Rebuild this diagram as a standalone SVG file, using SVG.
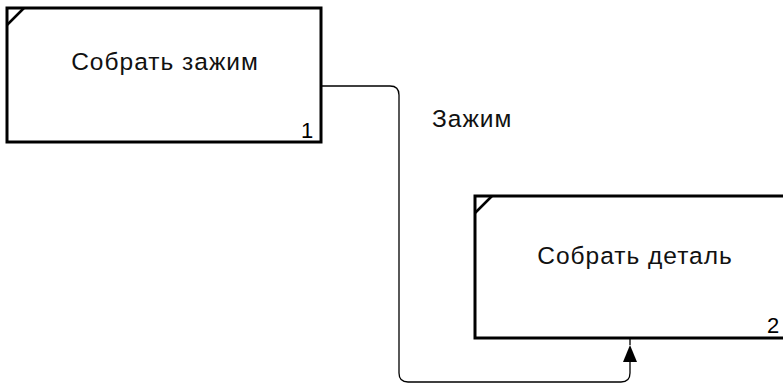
<svg xmlns="http://www.w3.org/2000/svg" width="783" height="385" viewBox="0 0 783 385">
<style>
.box{fill:#fff;stroke:#000;stroke-width:3}
.tick{stroke:#000;stroke-width:2.5;fill:none}
.lbl{font-family:"Liberation Sans",Arial,sans-serif;font-size:24.5px;letter-spacing:1px;fill:#111}
.num{font-family:"Liberation Sans",Arial,sans-serif;font-size:22px;fill:#000}
.conn{fill:none;stroke:#000;stroke-width:1.3}
</style>
<rect width="783" height="385" fill="#fff"/>
<g id="node1">
<rect class="box" x="7" y="8" width="314" height="134"/>
<line class="tick" x1="7" y1="25" x2="24" y2="8"/>
<text class="lbl" x="165" y="70" text-anchor="middle">Собрать зажим</text>
<text class="num" x="301" y="138">1</text>
</g>
<g id="node2">
<rect class="box" x="475" y="196" width="312" height="142"/>
<line class="tick" x1="475" y1="213" x2="492" y2="196"/>
<text class="lbl" x="635" y="264" text-anchor="middle">Собрать деталь</text>
<text class="num" x="767" y="333">2</text>
</g>
<g id="connectors">
<path class="conn" d="M322,86 H390 Q399,86 399,95 V373 Q399,382 408,382 H621 Q630,382 630,373 V362"/>
<path d="M630,345 L637,362 L623,362 Z" fill="#000"/>
<line class="conn" x1="630" y1="345" x2="630" y2="339"/>
<text class="lbl" x="432" y="127">Зажим</text>
</g>
</svg>
